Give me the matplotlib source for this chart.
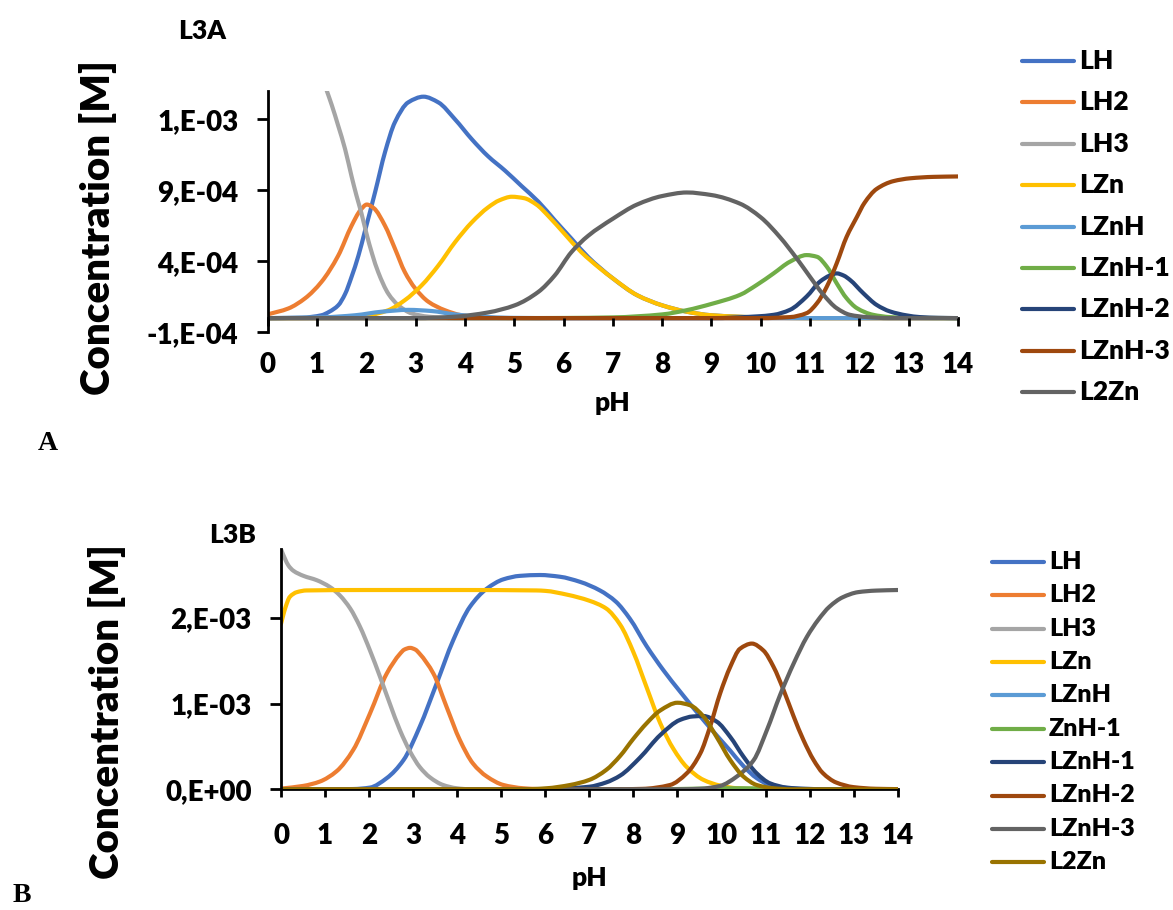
import numpy as np
import matplotlib
matplotlib.use("Agg")
import matplotlib.pyplot as plt
from matplotlib.lines import Line2D
from matplotlib.path import Path
from matplotlib.patches import PathPatch
import matplotlib.transforms as mtransforms

plt.rcParams['font.family'] = ['Lato', 'DejaVu Sans']
WEIGHT = 'heavy'

# concentrations below are in units of 1e-3 M

# ---- panel A (L3A) ----
a_lh_ph = [0, 0.7, 1.09, 1.25, 1.43, 1.57, 1.70, 1.84, 1.97, 2.18, 2.38, 2.58, 2.85, 3.16, 3.46,
           3.80, 4.14, 4.47, 4.81, 5.15, 5.49, 5.82, 6.16, 6.50, 7.0, 7.5, 8.0, 8.5, 9.0, 10.0, 11.0, 14.0]
a_lh = [0, 0.003, 0.02, 0.045, 0.09, 0.17, 0.29, 0.44, 0.61, 0.89, 1.17, 1.38, 1.52, 1.56, 1.52,
        1.40, 1.26, 1.14, 1.04, 0.93, 0.82, 0.69, 0.56, 0.43, 0.28, 0.16, 0.09, 0.045, 0.02, 0.005, 0, 0]

a_lh2_ph = [0, 0.42, 0.76, 1.09, 1.43, 1.70, 1.88, 2.01, 2.15, 2.38, 2.58, 2.78, 2.99, 3.26, 3.59,
            3.93, 4.34, 5.0, 14.0]
a_lh2 = [0.026, 0.068, 0.14, 0.255, 0.44, 0.65, 0.76, 0.80, 0.775, 0.65, 0.49, 0.325, 0.21, 0.115,
         0.056, 0.02, 0.005, 0, 0]

a_lh3_ph = [0, 0.5, 1.0, 1.2, 1.30, 1.43, 1.57, 1.70, 1.80, 1.90, 2.0, 2.12, 2.24, 2.45, 2.65, 2.92,
            3.26, 3.8, 14.0]
a_lh3 = [2.45, 2.2, 1.8, 1.60, 1.50, 1.355, 1.19, 1.00, 0.864, 0.74, 0.60, 0.45, 0.325, 0.17, 0.09,
         0.033, 0.01, 0, 0]

a_lzn_ph = [0, 1.5, 1.97, 2.2, 2.45, 2.78, 3.12, 3.46, 3.80, 4.14, 4.47, 4.7, 4.95, 5.2, 5.45, 5.69,
            6.03, 6.36, 6.74, 7.0, 7.5, 8.0, 8.5, 9.0, 10.0, 11.0, 14.0]
a_lzn = [0, 0.002, 0.01, 0.03, 0.056, 0.126, 0.23, 0.37, 0.535, 0.675, 0.78, 0.83, 0.855, 0.845,
         0.80, 0.72, 0.59, 0.465, 0.35, 0.28, 0.16, 0.09, 0.045, 0.02, 0.005, 0, 0]

a_lznh_ph = [0, 1.09, 1.77, 2.31, 2.85, 3.32, 3.80, 4.34, 4.9, 6.0, 14.0]
a_lznh = [0, 0.005, 0.02, 0.045, 0.058, 0.05, 0.026, 0.01, 0.002, 0, 0]

a_lznh1_ph = [0, 5.0, 6.0, 7.0, 8.0, 8.5, 9.0, 9.58, 9.92, 10.26, 10.59, 10.93, 11.14, 11.34, 11.54,
              11.74, 11.95, 12.28, 12.62, 13.0, 14.0]
a_lznh1 = [0, 0, 0.001, 0.005, 0.026, 0.056, 0.10, 0.164, 0.234, 0.315, 0.397, 0.444, 0.432, 0.362,
           0.245, 0.14, 0.07, 0.023, 0.007, 0.002, 0]

a_lznh2_ph = [0, 9.0, 9.92, 10.26, 10.59, 10.93, 11.2, 11.4, 11.54, 11.68, 11.81, 12.08, 12.35,
              12.62, 12.96, 13.23, 13.6, 14.0]
a_lznh2 = [0, 0, 0.012, 0.023, 0.058, 0.152, 0.257, 0.30, 0.315, 0.30, 0.269, 0.175, 0.093, 0.047,
           0.019, 0.007, 0.002, 0]

a_lznh3_ph = [0, 10.0, 10.59, 10.93, 11.14, 11.34, 11.54, 11.74, 11.95, 12.1, 12.35, 12.69, 13.03,
              13.5, 14.0]
a_lznh3 = [0, 0, 0.007, 0.035, 0.105, 0.222, 0.386, 0.572, 0.713, 0.81, 0.91, 0.965, 0.985, 0.995,
           0.998]

a_l2zn_ph = [0, 3.0, 3.80, 4.47, 5.01, 5.49, 5.82, 6.16, 6.50, 7.0, 7.49, 8.0, 8.5, 9.0, 9.58, 10.0,
             10.39, 10.73, 11.0, 11.27, 11.54, 11.81, 12.15, 12.6, 14.0]
a_l2zn = [0, 0, 0.01, 0.04, 0.09, 0.185, 0.30, 0.465, 0.58, 0.70, 0.80, 0.86, 0.885, 0.867, 0.806,
          0.71, 0.57, 0.42, 0.29, 0.165, 0.07, 0.023, 0.007, 0, 0]

# ---- panel B (L3B) ----
b_lh_ph = [0, 1.0, 1.64, 2.02, 2.40, 2.78, 3.15, 3.53, 3.91, 4.29, 4.67, 5.05, 5.42, 5.88, 6.33,
           6.79, 7.24, 7.6, 7.92, 8.30, 8.68, 9.06, 9.44, 9.82, 10.2, 10.5, 10.8, 11.1, 11.48, 11.85,
           12.6, 14.0]
b_lh = [0, 0, 0.003, 0.02, 0.13, 0.34, 0.73, 1.23, 1.74, 2.13, 2.34, 2.45, 2.49, 2.50, 2.48, 2.42,
        2.32, 2.19, 1.99, 1.67, 1.39, 1.14, 0.90, 0.67, 0.45, 0.27, 0.13, 0.05, 0.015, 0.005, 0, 0]

b_lh2_ph = [0, 0.51, 0.88, 1.26, 1.64, 2.02, 2.40, 2.70, 2.80, 2.93, 3.05, 3.15, 3.46, 3.76, 4.06,
            4.36, 4.67, 5.05, 5.50, 6.03, 14.0]
b_lh2 = [0.008, 0.04, 0.09, 0.21, 0.46, 0.885, 1.35, 1.58, 1.63, 1.65, 1.63, 1.58, 1.35, 0.96,
         0.575, 0.30, 0.15, 0.05, 0.012, 0, 0]

b_lh3_ph = [0, 0.09, 0.17, 0.28, 0.51, 0.81, 1.11, 1.34, 1.57, 1.79, 2.02, 2.25, 2.47, 2.70, 2.93,
            3.15, 3.38, 3.68, 3.99, 4.29, 14.0]
b_lh3 = [2.80, 2.69, 2.61, 2.55, 2.49, 2.44, 2.36, 2.26, 2.11, 1.90, 1.62, 1.31, 1.00, 0.69, 0.44,
         0.26, 0.14, 0.05, 0.012, 0, 0]

b_lzn_ph = [0, 0.05, 0.1, 0.2, 0.36, 0.58, 2.0, 4.0, 5.8, 6.0, 6.5, 7.0, 7.38, 7.7, 8.0, 8.3, 8.61,
            8.91, 9.21, 9.59, 9.97, 10.35, 10.7, 14.0]
b_lzn = [1.93, 2.03, 2.12, 2.245, 2.30, 2.32, 2.325, 2.325, 2.32, 2.315, 2.27, 2.20, 2.11, 1.92,
         1.60, 1.19, 0.77, 0.47, 0.26, 0.11, 0.043, 0.012, 0.003, 0]

b_lznh_ph = [0, 14.0]
b_lznh = [0, 0]

b_znh1_ph = [0, 8.5, 9.0, 9.5, 10.0, 10.5, 11.0, 11.5, 12.0, 14.0]
b_znh1 = [0, 0, 0.003, 0.008, 0.012, 0.012, 0.008, 0.003, 0, 0]

b_lznh1_ph = [0, 5.5, 6.0, 6.5, 7.0, 7.38, 7.70, 8.15, 8.61, 9.06, 9.35, 9.59, 9.89, 10.2, 10.5,
              10.8, 11.1, 11.48, 11.9, 12.5, 14.0]
b_lznh1 = [0, 0, 0.003, 0.012, 0.03, 0.08, 0.16, 0.37, 0.633, 0.81, 0.85, 0.855, 0.79, 0.61, 0.38,
           0.186, 0.07, 0.02, 0.005, 0, 0]

b_lznh2_ph = [0, 7.5, 8.2, 8.83, 9.21, 9.52, 9.74, 9.97, 10.2, 10.42, 10.69, 10.95, 11.18, 11.41,
              11.64, 11.86, 12.09, 12.3, 12.6, 13.0, 13.5, 14.0]
b_lznh2 = [0, 0, 0.005, 0.05, 0.186, 0.42, 0.73, 1.12, 1.43, 1.64, 1.70, 1.62, 1.43, 1.157, 0.847,
           0.575, 0.342, 0.19, 0.08, 0.025, 0.006, 0.002]

b_lznh3_ph = [0, 9.0, 9.5, 9.97, 10.35, 10.73, 11.03, 11.33, 11.64, 11.94, 12.2, 12.45, 12.75, 13.1,
              13.5, 14.0]
b_lznh3 = [0, 0, 0.005, 0.04, 0.15, 0.34, 0.69, 1.10, 1.47, 1.78, 1.98, 2.13, 2.24, 2.30, 2.318,
           2.325]

b_l2zn_ph = [0, 5.5, 6.03, 6.56, 7.0, 7.38, 7.70, 8.0, 8.30, 8.61, 9.0, 9.29, 9.59, 9.89, 10.20,
             10.5, 10.8, 11.18, 11.6, 14.0]
b_l2zn = [0, 0, 0.012, 0.05, 0.11, 0.225, 0.39, 0.59, 0.77, 0.92, 1.01, 0.98, 0.85, 0.61, 0.34,
          0.148, 0.05, 0.012, 0, 0]

labels_a = ['LH', 'LH2', 'LH3', 'LZn', 'LZnH', 'LZnH-1', 'LZnH-2', 'LZnH-3', 'L2Zn']
labels_b = ['LH', 'LH2', 'LH3', 'LZn', 'LZnH', 'ZnH-1', 'LZnH-1', 'LZnH-2', 'LZnH-3', 'L2Zn']
colors_a = ['#4472C4', '#ED7D31', '#A5A5A5', '#FFC000', '#5B9BD5', '#70AD47', '#264478', '#9E480E', '#636363']
colors_b = colors_a + ['#997300']

series_a = [(a_lh_ph, a_lh), (a_lh2_ph, a_lh2), (a_lh3_ph, a_lh3), (a_lzn_ph, a_lzn),
            (a_lznh_ph, a_lznh), (a_lznh1_ph, a_lznh1), (a_lznh2_ph, a_lznh2),
            (a_lznh3_ph, a_lznh3), (a_l2zn_ph, a_l2zn)]
series_b = [(b_lh_ph, b_lh), (b_lh2_ph, b_lh2), (b_lh3_ph, b_lh3), (b_lzn_ph, b_lzn),
            (b_lznh_ph, b_lznh), (b_znh1_ph, b_znh1), (b_lznh1_ph, b_lznh1),
            (b_lznh2_ph, b_lznh2), (b_lznh3_ph, b_lznh3), (b_l2zn_ph, b_l2zn)]

ph_ticks = list(range(15))
yticks_a = [-1e-4, 4e-4, 9e-4, 1.4e-3]
yticklabels_a = ['-1,E-04', '4,E-04', '9,E-04', '1,E-03']
yticks_b = [0, 1e-3, 2e-3]
yticklabels_b = ['0,E+00', '1,E-03', '2,E-03']

W, H = 1173, 910
fig = plt.figure(figsize=(W / 100, H / 100), dpi=100)


def px_axes(left, top, right, bottom):
    return fig.add_axes([left / W, 1 - bottom / H, (right - left) / W, (bottom - top) / H])


def smooth_path(x, y):
    # Excel-style smoothed line: monotone cubic segments drawn as Bezier curves
    x = np.asarray(x, float)
    y = np.asarray(y, float)
    h = np.diff(x)
    d = np.diff(y) / h
    m = np.zeros_like(y)
    m[0], m[-1] = d[0], d[-1]
    for i in range(1, len(x) - 1):
        if d[i - 1] * d[i] > 0:
            w1 = 2 * h[i] + h[i - 1]
            w2 = h[i] + 2 * h[i - 1]
            m[i] = (w1 + w2) / (w1 / d[i - 1] + w2 / d[i])
    verts = [(x[0], y[0])]
    codes = [Path.MOVETO]
    for i in range(len(x) - 1):
        verts += [(x[i] + h[i] / 3, y[i] + m[i] * h[i] / 3),
                  (x[i + 1] - h[i] / 3, y[i + 1] - m[i + 1] * h[i] / 3),
                  (x[i + 1], y[i + 1])]
        codes += [Path.CURVE4] * 3
    return Path(verts, codes)


def draw_panel(ax, series, colors, ylim, yticks, yticklabels):
    for (ph, c), col in zip(series, colors):
        p = smooth_path(ph, np.array(c) * 1e-3)
        ax.add_patch(PathPatch(p, fill=False, edgecolor=col, lw=3.0, capstyle='round',
                               joinstyle='round'))
    ax.set_xlim(0, 14)
    ax.set_ylim(*ylim)
    ax.spines['top'].set_visible(False)
    ax.spines['right'].set_visible(False)
    ax.spines['bottom'].set_position(('data', 0))
    ax.spines['bottom'].set_zorder(0)
    for s in ('left', 'bottom'):
        ax.spines[s].set_linewidth(2.0)
    ax.set_xticks(ph_ticks)
    ax.set_yticks(yticks)
    ax.set_yticklabels(yticklabels, fontsize=20, fontweight=WEIGHT)
    ax.tick_params(axis='x', direction='out', length=6, width=2, labelbottom=False)
    ax.tick_params(axis='y', direction='out', length=8, width=2, pad=13)
    # x tick labels sit well below the zero line (Excel "low" spacing)
    off = mtransforms.ScaledTranslation(0, -34 / 100, fig.dpi_scale_trans)
    for v in ph_ticks:
        ax.text(v, 0, str(v), transform=ax.transData + off, ha='center', va='top',
                fontsize=20, fontweight=WEIGHT, clip_on=False)


def draw_legend(labels, colors, x0, x1, xt, y0, dy, size):
    for i, (lab, col) in enumerate(zip(labels, colors)):
        y = 1 - (y0 + i * dy) / H
        fig.add_artist(Line2D([x0 / W, x1 / W], [y, y], color=col, lw=3.0, solid_capstyle='round'))
        fig.text(xt / W, y, lab, ha='left', va='center', fontsize=size, fontweight=WEIGHT)


ax_a = px_axes(267.7, 91, 958, 332.3)
draw_panel(ax_a, series_a, colors_a, (-1e-4, 1.6e-3), yticks_a, yticklabels_a)
ax_b = px_axes(281, 549.3, 897.7, 789.3)
draw_panel(ax_b, series_b, colors_b, (0, 2.8e-3), yticks_b, yticklabels_b)

draw_legend(labels_a, colors_a, 1022, 1074, 1079, 61, 41.4, 19)
draw_legend(labels_b, colors_b, 992, 1044, 1049, 561.7, 33.4, 18)

fig.text(202 / W, 1 - 31 / H, 'L3A', ha='center', va='center', fontsize=19, fontweight=WEIGHT)
fig.text(233 / W, 1 - 535 / H, 'L3B', ha='center', va='center', fontsize=19, fontweight=WEIGHT)
fig.text(98 / W, 1 - 228 / H, 'Concentration [M]', rotation=90, ha='center', va='center',
         fontsize=29, fontweight=WEIGHT)
fig.text(107 / W, 1 - 712 / H, 'Concentration [M]', rotation=90, ha='center', va='center',
         fontsize=29, fontweight=WEIGHT)
fig.text(613 / W, 1 - 403 / H, 'pH', ha='center', va='center', fontsize=19, fontweight=WEIGHT)
fig.text(589 / W, 1 - 878 / H, 'pH', ha='center', va='center', fontsize=19, fontweight=WEIGHT)
fig.text(48 / W, 1 - 443 / H, 'A', ha='center', va='center', fontsize=20, fontweight='bold',
         family='Liberation Serif')
fig.text(22 / W, 1 - 895 / H, 'B', ha='center', va='center', fontsize=20, fontweight='bold',
         family='Liberation Serif')

fig.savefig('out.png', dpi=100)
